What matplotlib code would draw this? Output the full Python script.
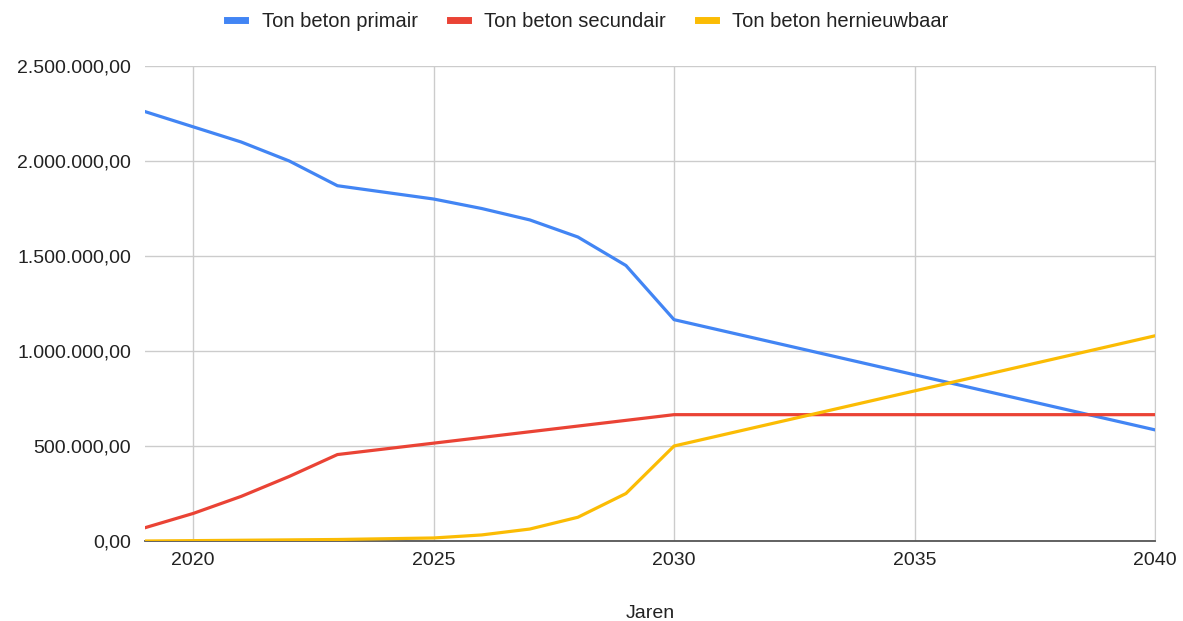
import matplotlib
matplotlib.use("Agg")
import matplotlib.pyplot as plt
from matplotlib.ticker import FuncFormatter, MultipleLocator

plt.rcParams["font.family"] = ["Liberation Sans", "DejaVu Sans"]

years = list(range(2019, 2041))
primair = [2260000, 2180000, 2100000, 2000000, 1870000, 1835000, 1800000,
           1750000, 1690000, 1600000, 1450000, 1165000, 1107000, 1049000,
           991000, 933000, 875000, 817000, 759000, 701000, 643000, 585000]
secundair = [70000, 145000, 235000, 340000, 455000, 485000, 515000, 545000,
             575000, 605000, 635000, 665000, 665000, 665000, 665000, 665000,
             665000, 665000, 665000, 665000, 665000, 665000]
hernieuwbaar = [0, 2000, 4000, 6000, 8000, 12000, 16000, 32000, 63000,
                125000, 250000, 500000, 558000, 616000, 674000, 732000,
                790000, 848000, 906000, 964000, 1022000, 1080000]

series = [
    ("Ton beton primair", primair, "#4285F4"),
    ("Ton beton secundair", secundair, "#EA4335"),
    ("Ton beton hernieuwbaar", hernieuwbaar, "#FBBC04"),
]


def dutch_number(v, pos):
    s = f"{v:,.2f}"
    return s.replace(",", "X").replace(".", ",").replace("X", ".")


fig = plt.figure(figsize=(11.83, 6.21), dpi=100)
ax = fig.add_axes([0.1226, 0.1288, 0.8537, 0.7649])

for label, values, color in series:
    ax.plot(years, values, color=color, linewidth=2.3, label=label,
            solid_joinstyle="round", zorder=3)

ax.set_xlim(2019, 2040)
ax.set_ylim(0, 2500000)
ax.xaxis.set_major_locator(MultipleLocator(5))
ax.yaxis.set_major_locator(MultipleLocator(500000))
ax.yaxis.set_major_formatter(FuncFormatter(dutch_number))

ax.grid(True, color="#cccccc", linewidth=1.0, zorder=0)
for side in ["left", "top"]:
    ax.spines[side].set_visible(False)
ax.spines["right"].set_color("#cccccc")
ax.spines["bottom"].set_color("#555555")
ax.spines["bottom"].set_linewidth(1.3)
ax.tick_params(axis="both", length=0, labelsize=14, colors="#222222")
ax.tick_params(axis="x", pad=8)
ax.tick_params(axis="y", pad=10)

ax.set_xlabel("Jaren", fontsize=14, color="#222222", labelpad=26)

fig.legend(loc="upper center", bbox_to_anchor=(0.497, 1.01), ncol=3,
           frameon=False, fontsize=14.5, handlelength=0.9, handletextpad=0.8,
           columnspacing=1.6, labelcolor="#222222")
for line in fig.legends[0].get_lines():
    line.set_linewidth(5)

fig.savefig("out.png", dpi=100, facecolor="white")
